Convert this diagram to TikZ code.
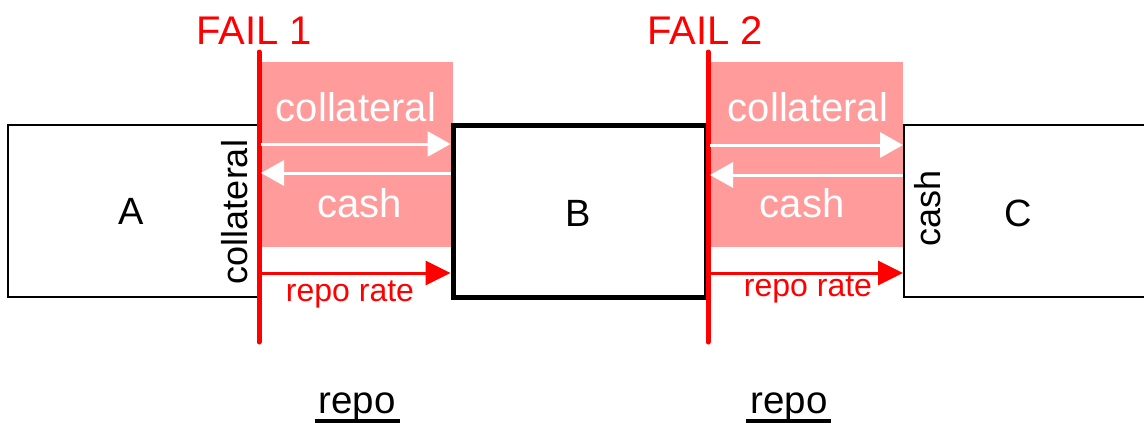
\documentclass[tikz,border=0pt]{standalone}
\usepackage{fontspec}
\setmainfont{Liberation Sans}
\usetikzlibrary{arrows.meta}
\definecolor{pinkfill}{HTML}{FF9B9B}
\definecolor{redline}{HTML}{FF0000}
\begin{document}
\begin{tikzpicture}[x=1pt,y=-1pt,
  party/.style={draw=black, line width=2pt, inner sep=0pt},
  pinkbox/.style={fill=pinkfill, draw=none, inner sep=0pt},
  failline/.style={draw=redline, line width=5pt, line cap=round},
  whitearrow/.style={draw=white, line width=3pt, -{Triangle[length=23pt,width=25pt]}},
  redarrow/.style={draw=redline, line width=3pt, -{Triangle[length=25pt,width=24pt]}},
  whitelabel/.style={text=white, font=\fontsize{40}{40}\selectfont, inner sep=0pt},
  redlabel/.style={text=redline, font=\fontsize{32}{32}\selectfont, inner sep=0pt},
  faillabel/.style={text=redline, font=\fontsize{40}{40}\selectfont, inner sep=0pt},
  sidelabel/.style={text=black, font=\fontsize{36}{36}\selectfont, inner sep=0pt, rotate=90},
  letter/.style={text=black, font=\fontsize{38}{38}\selectfont, inner sep=0pt},
  repolabel/.style={text=black, font=\fontsize{38.5}{38.5}\selectfont, inner sep=0pt, anchor=base},
  underline/.style={draw=black, line width=4pt}]
\useasboundingbox (0,0) rectangle (1144,423);
% pink areas
\node[pinkbox, minimum width=192pt, minimum height=185pt] (p1) at (357,154.5) {};
\node[pinkbox, minimum width=192pt, minimum height=185pt] (p2) at (807,154.5) {};
% parties
\node[party, minimum width=250pt, minimum height=172pt] (A) at (133,211) {};
\node[party, line width=5pt, minimum width=253pt, minimum height=172pt] (B) at (579.5,211) {};
\node[party, minimum width=250pt, minimum height=172pt] (C) at (1029,211) {};
\node[letter] (Al) at (131,211) {A};
\node[letter] (Bl) at (578,213) {B};
\node[letter] (Cl) at (1018,213) {C};
% fail lines
\coordinate (f1t) at (259,52);
\coordinate (f1b) at (259,342);
\coordinate (f2t) at (708,52);
\coordinate (f2b) at (708,342);
\draw[failline] (f1t) -- (f1b);
\draw[failline] (f2t) -- (f2b);
\node[faillabel] (F1) at (254,31) {FAIL 1};
\node[faillabel] (F2) at (705,31) {FAIL 2};
% arrows repo 1
\coordinate (a1s) at (261,144);
\coordinate (b1s) at (261,173);
\coordinate (r1s) at (261,273);
\draw[whitearrow] (a1s) -- (B.west |- a1s);
\draw[whitearrow] (B.west |- b1s) -- (b1s);
\draw[redarrow] (r1s) -- (B.west |- r1s);
\node[whitelabel] (c1) at (356,107) {collateral};
\node[whitelabel] (k1) at (360,203) {cash};
\node[redlabel] (rr1) at (350,294) {repo rate};
% arrows repo 2
\coordinate (a2s) at (710,145);
\coordinate (b2s) at (710,175);
\coordinate (r2s) at (710,273);
\draw[whitearrow] (a2s) -- (C.west |- a2s);
\draw[whitearrow] (C.west |- b2s) -- (b2s);
\draw[redarrow] (r2s) -- (C.west |- r2s);
\node[whitelabel] (c2) at (808,107) {collateral};
\node[whitelabel] (k2) at (802,203) {cash};
\node[redlabel] (rr2) at (808,289) {repo rate};
% side labels
\node[sidelabel] (sA) at (235,212) {collateral};
\node[sidelabel] (sC) at (928,208) {cash};
% repo labels
\node[repolabel] (rp1) at (357,413) {repo};
\node[repolabel] (rp2) at (789,413) {repo};
\coordinate (u1a) at (315,421);
\coordinate (u1b) at (400,421);
\coordinate (u2a) at (746,421);
\coordinate (u2b) at (831,421);
\draw[underline] (u1a) -- (u1b);
\draw[underline] (u2a) -- (u2b);
\end{tikzpicture}
\end{document}
